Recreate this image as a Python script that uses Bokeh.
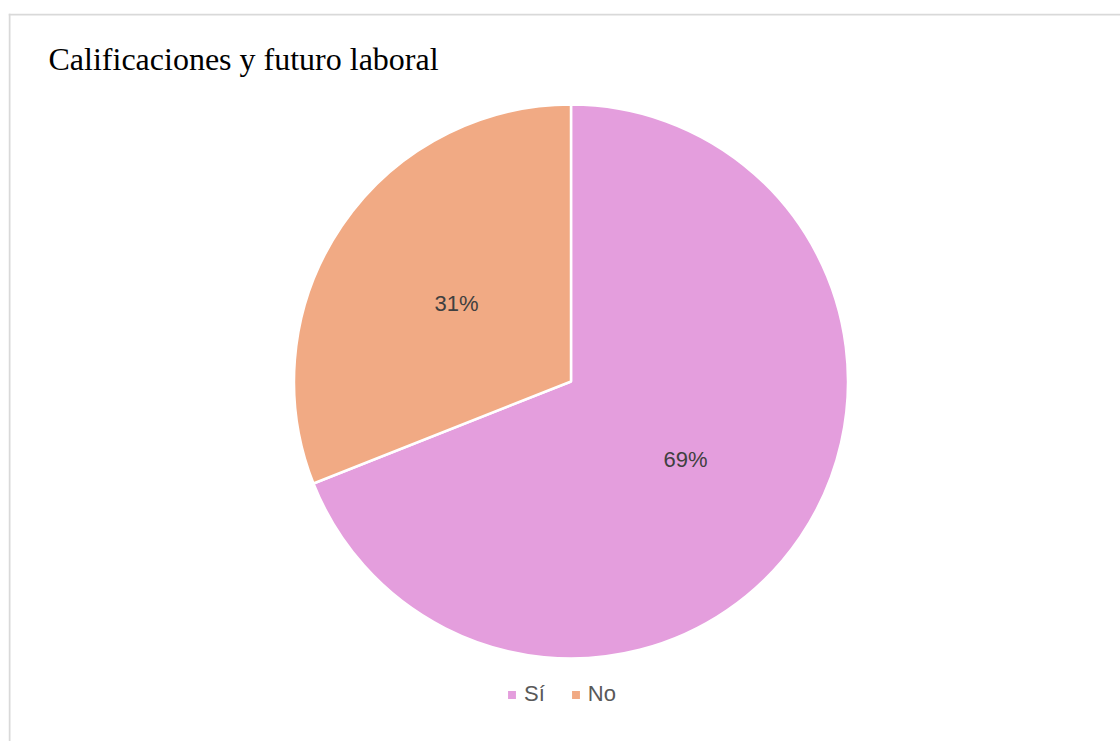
import numpy as np
from bokeh.plotting import figure
from bokeh.models import ColumnDataSource, Legend, LegendItem, Label, Span, Range1d
from bokeh.core.properties import value
from bokeh.embed import file_html
from bokeh.resources import INLINE

# ---- data ----
title_text = "Calificaciones y futuro laboral"
categories = ["Sí", "No"]
percentages = [69, 31]
colors = ["#E49EDD", "#F1AA84"]

# ---- layout ----
W, H = 1120, 741
LEFT, TOP = 8, 13
FW, FH = W - LEFT, H - TOP
CX, CY, R = 562.5, 360.0, 277.0

p = figure(width=W, height=H, output_backend="svg", toolbar_location=None,
           x_range=Range1d(0, FW), y_range=Range1d(0, FH),
           x_axis_type=None, y_axis_type=None,
           min_border_left=LEFT, min_border_right=0, min_border_top=TOP, min_border_bottom=0,
           outline_line_color=None)
p.xgrid.visible = False
p.ygrid.visible = False

frac = np.array(percentages, dtype=float) / sum(percentages)
cum = np.cumsum(frac)
prev = np.concatenate([[0.0], cum[:-1]])
start = np.pi / 2 - cum * 2 * np.pi
end = np.pi / 2 - prev * 2 * np.pi
mid = (start + end) / 2

src = ColumnDataSource(dict(
    cat=categories, pct=[f"{v}%" for v in percentages], color=colors,
    start=start, end=end,
    x=[CX] * len(categories), y=[CY] * len(categories),
    lx=CX + 0.5 * R * np.cos(mid), ly=CY + 0.5 * R * np.sin(mid),
))

wedges = p.wedge(x="x", y="y", radius=R, start_angle="start", end_angle="end",
                 direction="anticlock", fill_color="color", line_color="white",
                 line_width=2.5, source=src)

p.text(x="lx", y="ly", text="pct", source=src, text_align="center",
       text_baseline="middle", text_font=value("Liberation Sans"),
       text_font_size="22px", text_color="#404040")

# legend with square swatches
items = [LegendItem(label=c, renderers=[wedges], index=i) for i, c in enumerate(categories)]
legend = Legend(items=items, orientation="horizontal", location=(497, 34),
                border_line_color=None, background_fill_alpha=0, padding=0, margin=0,
                label_text_font="Liberation Sans", label_text_font_size="22px",
                label_text_color="#595959", glyph_width=13, glyph_height=13,
                label_standoff=6, spacing=24, label_width=10)
p.add_layout(legend)

# title
p.add_layout(Label(x=40, y=FH - 45, x_units="screen", y_units="screen", text=title_text,
                   text_font="Liberation Serif", text_font_size="32px", text_color="#000000",
                   text_baseline="alphabetic"))

# chart border (left and top visible)
p.add_layout(Span(location=1, dimension="height", line_color="#d9d9d9", line_width=2))
p.add_layout(Span(location=FH - 1, dimension="width", line_color="#d9d9d9", line_width=2))

open("out.html", "w").write(file_html(p, INLINE))
